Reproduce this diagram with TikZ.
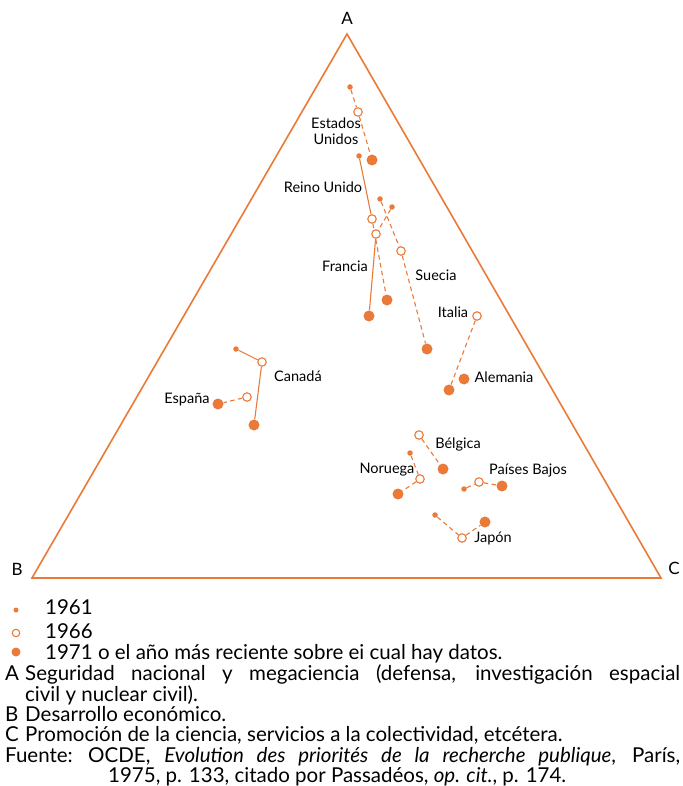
\documentclass[tikz,border=0pt]{standalone}
\usepackage{fontspec}
\setmainfont{Lato}
\definecolor{naranja}{RGB}{234,122,56}
\begin{document}
\begin{tikzpicture}[x=1pt,y=-1pt,
  p61/.style={circle, inner sep=0pt, minimum size=5.5pt, fill=naranja},
  p66/.style={circle, inner sep=0pt, minimum size=8.5pt, draw=naranja, line width=1.1pt, fill=white},
  p71/.style={circle, inner sep=0pt, minimum size=11pt, fill=naranja},
  etiq/.style={font=\fontsize{14.5}{16}\selectfont, inner sep=0pt, align=center},
  vert/.style={font=\fontsize{17}{19}\selectfont, inner sep=0pt},
  traza/.style={naranja, line width=1.1pt},
  trazad/.style={naranja, line width=1.1pt, dash pattern=on 4.5pt off 3.5pt},
  ley/.style={font=\fontsize{20.5}{22}\selectfont, inner sep=0pt, anchor=base west}]
\useasboundingbox (0,0) rectangle (682,786);
% triangulo
\coordinate (vA) at (347,34);
\coordinate (vB) at (32,578);
\coordinate (vC) at (661,578);
\draw[naranja, line width=1.6pt, line join=miter] (vA) -- (vB) -- (vC) -- cycle;
\node[vert] (lA) at (347,18) {A};
\node[vert] (lB) at (17,569) {B};
\node[vert] (lC) at (674,568) {C};
% Estados Unidos
\node[p61] (us61) at (350,87) {};
\node[p66] (us66) at (358,112) {};
\node[p71] (us71) at (372,160) {};
\draw[trazad] (us61) -- (us66);
\draw[trazad] (us66) -- (us71);
\node[etiq] (us) at (336,131) {Estados\\Unidos};
% Reino Unido
\node[p61] (ru61) at (359,156) {};
\node[p66] (ru66) at (372,219) {};
\node[p71] (ru71) at (387,300) {};
\draw[traza] (ru61) -- (ru66);
\draw[trazad] (ru66) -- (ru71);
\node[etiq] (ru) at (323,187) {Reino Unido};
% Francia
\node[p61] (fr61) at (392,207) {};
\node[p66] (fr66) at (376,234) {};
\node[p71] (fr71) at (369,316) {};
\draw[trazad] (fr61) -- (fr66);
\draw[traza] (fr66) -- (fr71);
\node[etiq] (fr) at (345,266) {Francia};
% Suecia
\node[p61] (su61) at (380,199) {};
\node[p66] (su66) at (401,251) {};
\node[p71] (su71) at (427,349) {};
\draw[trazad] (su61) -- (su66);
\draw[trazad] (su66) -- (su71);
\node[etiq] (su) at (436,275) {Suecia};
% Italia y Alemania
\node[p66] (it66) at (477,316) {};
\node[p71] (it71) at (449,390) {};
\draw[trazad] (it66) -- (it71);
\node[etiq] (it) at (453,312) {Italia};
\node[p71] (al71) at (464,379) {};
\node[etiq] (al) at (504,377) {Alemania};
% Canada y Espana
\node[p61] (ca61) at (236,349) {};
\node[p66] (ca66) at (262,362) {};
\node[p71] (ca71) at (254,425) {};
\draw[traza] (ca61) -- (ca66);
\draw[traza] (ca66) -- (ca71);
\node[etiq] (ca) at (298,376) {Canadá};
\node[p66] (es66) at (247,397) {};
\node[p71] (es71) at (218,404) {};
\draw[trazad] (es66) -- (es71);
\node[etiq] (es) at (187,400) {España};
% Belgica y Noruega
\node[p66] (be66) at (419,435) {};
\node[p71] (be71) at (443,469) {};
\draw[trazad] (be66) -- (be71);
\node[etiq] (be) at (458,444) {Bélgica};
\node[p61] (no61) at (410,453) {};
\node[p66] (no66) at (420,479) {};
\node[p71] (no71) at (398,494) {};
\draw[trazad] (no61) -- (no66);
\draw[trazad] (no66) -- (no71);
\node[etiq] (no) at (387,470) {Noruega};
% Paises Bajos
\node[p61] (pb61) at (464,489) {};
\node[p66] (pb66) at (479,482) {};
\node[p71] (pb71) at (502,486) {};
\draw[trazad] (pb61) -- (pb66);
\draw[trazad] (pb66) -- (pb71);
\node[etiq] (pb) at (528,471) {Países Bajos};
% Japon
\node[p61] (ja61) at (435,515) {};
\node[p66] (ja66) at (462,538) {};
\node[p71] (ja71) at (485,522) {};
\draw[trazad] (ja61) -- (ja66);
\draw[trazad] (ja66) -- (ja71);
\node[etiq] (ja) at (493,538) {Japón};
% leyenda
\node[p61, minimum size=5pt] (k61) at (16,610) {};
\node[p66, minimum size=7.5pt] (k66) at (16,633) {};
\node[p71, minimum size=9pt] (k71) at (16,652) {};
\node[ley] (t61) at (45,614) {1961};
\node[ley] (t66) at (45,638) {1966};
\node[ley] (t71) at (45,659) {1971 o el año más reciente sobre ei cual hay datos.};
\node[ley] (tA) at (5,680) {A};
\node[ley] (tA1) at (25,680) {\makebox[655pt][s]{Seguridad nacional y megaciencia (defensa, investigación espacial}};
\node[ley] (tA2) at (25,701) {civil y nuclear civil).};
\node[ley] (tB) at (5,721) {B};
\node[ley] (tB1) at (25,721) {Desarrollo económico.};
\node[ley] (tC) at (5,741) {C};
\node[ley] (tC1) at (25,741) {Promoción de la ciencia, servicios a la colectividad, etcétera.};
\node[ley] (tF) at (5,762) {Fuente:};
\node[ley] (tF1) at (88,762) {\makebox[592pt][s]{OCDE, \emph{Evolution des priorités de la recherche publique}, París,}};
\node[ley] (tF2) at (108,782) {1975, p. 133, citado por Passadéos, \emph{op. cit.}, p. 174.};
\end{tikzpicture}
\end{document}
